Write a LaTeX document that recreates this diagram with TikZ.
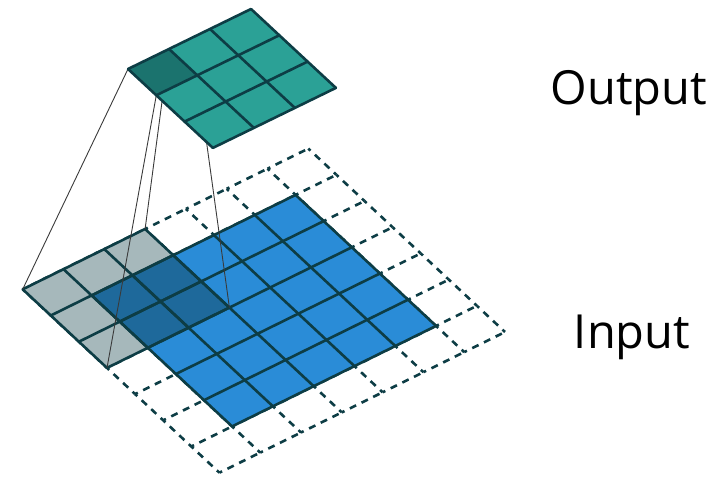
\documentclass[tikz,border=0pt]{standalone}
\usepackage{fontspec}
\setmainfont{Open Sans}
\usepackage{xcolor}
\usepackage{tikz}
\usetikzlibrary{positioning}
\definecolor{gridedge}{HTML}{0D3D45}
\definecolor{inblue}{HTML}{2A8CD7}
\definecolor{overblue}{HTML}{1E699B}
\definecolor{kergray}{HTML}{A6B8BB}
\definecolor{outteal}{HTML}{2BA196}
\definecolor{outdark}{HTML}{1B736E}
\definecolor{projgray}{HTML}{3A3A3A}

\begin{document}
\begin{tikzpicture}[
    inplane/.style={x=1pt, y=1pt, cm={40.8,20.1,28.1,-26.2,(22.7pt,-289.3pt)}},
    outplane/.style={x=1pt, y=1pt, cm={41,20,28.3,-26.3,(128pt,-69pt)}},
    cellgrid/.style={draw=gridedge, line width=2.6pt, line cap=round},
    padgrid/.style={draw=gridedge, line width=2.6pt, dash pattern=on 7pt off 6pt, dash phase=4pt},
    proj/.style={draw=projgray, line width=0.9pt},
    lbl/.style={font=\fontsize{47}{50}\selectfont, anchor=base, inner sep=0pt}
  ]
    \useasboundingbox (0,0) rectangle (728pt,-478pt);
    % padded input, 5x5 input and kernel
    \begin{scope}[inplane]
      \foreach \i in {0,...,7}
        \foreach \j in {0,...,6} {
          \draw[padgrid] (\i,\j) -- (\i,\j+1);
          \draw[padgrid] (\j,\i) -- (\j+1,\i);
        }
      \fill[inblue] (1,1) rectangle (6,6);
      \fill[kergray] (0,0) rectangle (3,3);
      \fill[overblue] (1,1) rectangle (3,3);
      \foreach \i in {1,...,6} {
        \draw[cellgrid] (\i,1) -- (\i,6);
        \draw[cellgrid] (1,\i) -- (6,\i);
      }
      \foreach \i in {0,...,3} {
        \draw[cellgrid] (\i,0) -- (\i,3);
        \draw[cellgrid] (0,\i) -- (3,\i);
      }
      \coordinate (kl) at (0,0);
      \coordinate (kt) at (3,0);
      \coordinate (kb) at (0,3);
      \coordinate (kr) at (3,3);
    \end{scope}
    % output cell corners
    \begin{scope}[outplane]
      \coordinate (ol) at (0,0);
      \coordinate (ot) at (1,0);
      \coordinate (ob) at (0,1);
      \coordinate (or) at (1,1);
    \end{scope}
    \draw[proj] (ol) -- (kl);
    \draw[proj] (ot) -- (kt);
    \draw[proj] (ob) -- (kb);
    \draw[proj] (or) -- (kr);
    % output
    \begin{scope}[outplane]
      \fill[outteal] (0,0) rectangle (3,3);
      \fill[outdark] (0,0) rectangle (1,1);
      \foreach \i in {0,...,3} {
        \draw[cellgrid] (\i,0) -- (\i,3);
        \draw[cellgrid] (0,\i) -- (3,\i);
      }
    \end{scope}
    \node[lbl] (outlbl) at (629pt,-105pt) {Output};
    \node[lbl] (inlbl) at (632pt,-348pt) {Input};
  \end{tikzpicture}
\end{document}
